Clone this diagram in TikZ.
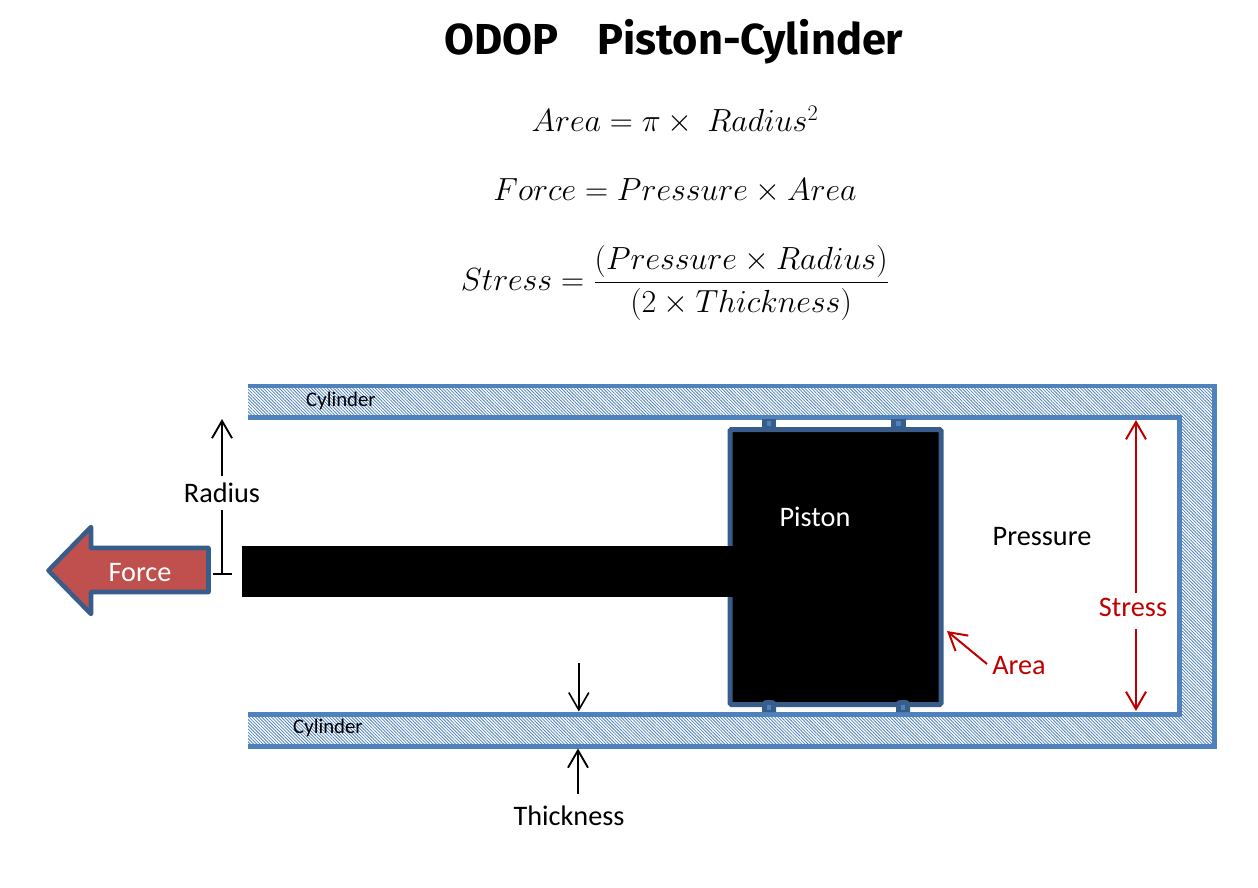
\documentclass[tikz,border=0pt]{standalone}
\usepackage{amsmath}
\usepackage{fontspec}
\setmainfont{Carlito}
\newfontfamily\titlefont{Fira Sans}
\usetikzlibrary{arrows.meta,patterns.meta}
\definecolor{wallblue}{HTML}{4F81BD}
\definecolor{edgeblue}{HTML}{385D8A}
\definecolor{forcered}{HTML}{C0504D}
\definecolor{notered}{HTML}{C00000}
\tikzset{
  wall/.style={line width=3.6pt,draw=wallblue,line join=miter},
  hatch/.style={pattern={Lines[angle=-45,distance=1.7pt,line width=0.6pt]},pattern color=wallblue},
  seal/.style={fill=edgeblue},
  sealcore/.style={fill=wallblue},
  label/.style={inner sep=0pt,outer sep=3pt,font=\fontsize{21.2}{25}\selectfont},
  small/.style={inner sep=0pt,font=\fontsize{15.6}{18}\selectfont},
  formula/.style={inner sep=0pt,scale=0.965,font=\fontsize{25.5}{30}\selectfont},
  black arrow/.style={-{Straight Barb[length=13pt,width=15pt]},line width=1.4pt},
  red arrow/.style={-{Straight Barb[length=13pt,width=15pt]},line width=1.5pt,draw=notered},
}
\begin{document}
\begin{tikzpicture}[x=0.75pt,y=-0.75pt]
    \useasboundingbox (0,0) rectangle (1258,888);
    % titel en formules
    \node[inner sep=0pt,font=\titlefont\bfseries\fontsize{32.5}{38}\selectfont] (title) at (674,42) {ODOP\hspace{0.9em}Piston-Cylinder};
    \node[formula] (areaeq) at (675,120) {$Area=\pi\times\ Radius^2$};
    \node[formula] (forceeq) at (675,191) {$Force=Pressure\times Area$};
    \node[formula] (stresseq) at (675,283) {$Stress=\dfrac{(Pressure\times Radius)}{(2\times Thickness)}$};
    % cilinder
    \fill[hatch] (248,386) -- (1214.5,386) -- (1214.5,746.5) -- (248,746.5) -- (248,714.5)
        -- (1179.5,714.5) -- (1179.5,417.5) -- (248,417.5) -- cycle;
    \draw[wall] (248,386) -- (1214.5,386) -- (1214.5,746.5) -- (248,746.5);
    \draw[wall] (248,417.5) -- (1179.5,417.5) -- (1179.5,714.5) -- (248,714.5);
    \node[small] (cyltop) at (341,401) {Cylinder};
    \node[small] (cylbot) at (328,728) {Cylinder};
    % zuiger
    \draw[draw=edgeblue,line width=3.75pt,fill=black,rounded corners=1pt] (730,429.5) rectangle (941,704.5);
    \fill[black] (242,546) rectangle (733,597);
    \fill[seal] (762,419) rectangle (776,428);
    \fill[seal] (891,419) rectangle (906,428);
    \fill[seal] (762,712) [rounded corners=3pt] -- (762,700) -- (776,700) [sharp corners] -- (776,712) -- cycle;
    \fill[seal] (896,712) [rounded corners=3pt] -- (896,700) -- (910,700) [sharp corners] -- (910,712) -- cycle;
    \fill[sealcore] (767,421) rectangle (771,425.5);
    \fill[sealcore] (896,421) rectangle (901,425.5);
    \fill[sealcore] (767,705) rectangle (771,710);
    \fill[sealcore] (901,705) rectangle (905,710);
    \node[label,text=white] (piston) at (815,517) {Piston};
    \node[label] (pressure) at (1042,537) {Pressure};
    % kracht
    \draw[draw=edgeblue,line width=3.4pt,fill=forcered,line join=round]
        (48.5,570.5) -- (91,527) -- (91,548) -- (208.5,548) -- (208.5,592) -- (91,592) -- (91,614) -- cycle;
    \node[label,text=white] (force) at (140,573) {Force};
    % straal
    \node[label,outer sep=5pt] (radius) at (222,493) {Radius};
    \coordinate (radiustop) at (222,419);
    \coordinate (radiusend) at (222,574);
    \coordinate (barleft) at (213,574);
    \coordinate (barright) at (232,574);
    \draw[black arrow] (radius) -- (radiustop);
    \draw[line width=1.4pt] (radius) -- (radiusend);
    \draw[line width=1.4pt] (barleft) -- (barright);
    % dikte
    \node[label] (thickness) at (569,816) {Thickness};
    \coordinate (thickfrom) at (578.8,663);
    \coordinate (thickto) at (578.8,711.5);
    \coordinate (thickbot) at (578,794);
    \coordinate (thickup) at (578,748.5);
    \draw[black arrow,line width=1.2pt] (thickfrom) -- (thickto);
    \draw[black arrow] (thickbot) -- (thickup);
    % spanning en oppervlak
    \node[label,text=notered] (stress) at (1133,607) {Stress};
    \coordinate (stresstop) at (1136,420);
    \coordinate (stressbot) at (1136,711);
    \coordinate (stressup) at (1136,593);
    \coordinate (stressdown) at (1136,629);
    \draw[red arrow] (stressup) -- (stresstop);
    \draw[red arrow] (stressdown) -- (stressbot);
    \node[label,text=notered] (area) at (1019,666) {Area};
    \coordinate (areatail) at (987,664);
    \coordinate (areatip) at (947,631);
    \draw[red arrow] (areatail) -- (areatip);
\end{tikzpicture}
\end{document}
